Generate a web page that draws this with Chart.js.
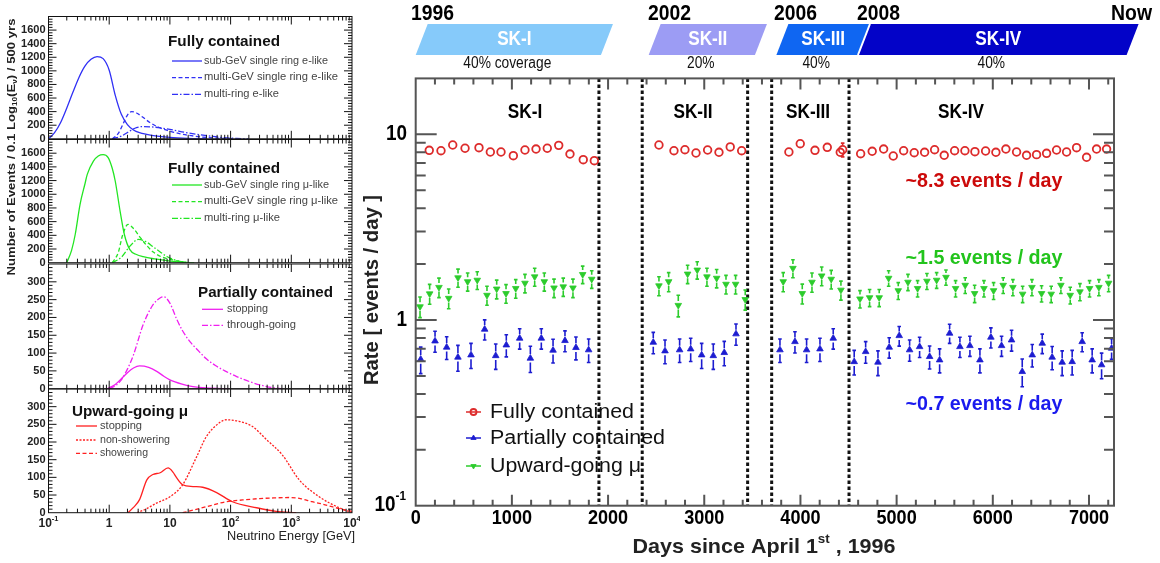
<!DOCTYPE html>
<html>
<head>
<meta charset="utf-8">
<script src="https://cdn.jsdelivr.net/npm/chart.js@4.4.1/dist/chart.umd.min.js"></script>
<style>
  body { margin: 0; background: #fff; width: 1160px; height: 563px; overflow: hidden; position: relative; }
  canvas { position: absolute; left: 0; top: 0; }
</style>
</head>
<body>
<canvas id="rate" width="1160" height="563"></canvas>
<canvas id="specFCe" width="360" height="563"></canvas>
<canvas id="specFCmu" width="360" height="563"></canvas>
<canvas id="specPC" width="360" height="563"></canvas>
<canvas id="specUp" width="360" height="563"></canvas>
<script>
// ---------- left: expected energy spectra, x = log10(E / GeV) ----------
const fcSubELogE = [-1, -0.9, -0.8, -0.7, -0.6, -0.5, -0.4, -0.3, -0.2, -0.1, 0, 0.1, 0.2, 0.3, 0.4, 0.5, 0.7, 1.0, 1.3, 1.6];
const fcSubE = [0, 90, 240, 450, 680, 900, 1070, 1170, 1210, 1180, 1010, 640, 360, 210, 130, 90, 50, 20, 6, 0];
const fcMultiGeVELogE = [0.05, 0.15, 0.25, 0.3, 0.37, 0.45, 0.55, 0.67, 0.8, 1.05, 1.25, 1.49, 1.75, 2.05];
const fcMultiGeVE = [0, 80, 260, 350, 400, 380, 320, 240, 175, 100, 60, 30, 10, 0];
const fcMultiRingELogE = [0.05, 0.2, 0.35, 0.45, 0.56, 0.7, 0.85, 1.05, 1.25, 1.5, 1.8, 2.1, 2.3];
const fcMultiRingE = [0, 40, 120, 165, 180, 175, 160, 130, 95, 60, 25, 5, 0];

const fcSubMuLogE = [-0.7, -0.62, -0.56, -0.48, -0.4, -0.36, -0.26, -0.18, -0.1, -0.02, 0.05, 0.1, 0.18, 0.25, 0.34, 0.45, 0.56, 0.75, 0.95, 1.2, 1.4];
const fcSubMu = [0, 180, 412, 853, 1150, 1294, 1485, 1560, 1580, 1540, 1380, 1190, 750, 412, 190, 120, 88, 55, 30, 8, 0];
const fcMultiGeVMuLogE = [0.05, 0.15, 0.22, 0.31, 0.4, 0.51, 0.62, 0.72, 0.85, 1.05, 1.2, 1.3];
const fcMultiGeVMu = [0, 150, 400, 560, 500, 370, 250, 160, 90, 40, 10, 0];
const fcMultiRingMuLogE = [0.05, 0.2, 0.35, 0.48, 0.6, 0.72, 0.85, 0.95, 1.05, 1.16, 1.3];
const fcMultiRingMu = [0, 80, 250, 340, 310, 235, 150, 90, 50, 20, 0];

const pcStopLogE = [-0.03, 0.1, 0.2, 0.3, 0.4, 0.5, 0.65, 0.79, 0.9, 1.0, 1.2, 1.38, 1.6, 1.98];
const pcStop = [0, 12, 28, 45, 58, 64, 60, 48, 35, 25, 13, 6, 2, 0];
const pcThruLogE = [0, 0.1, 0.2, 0.3, 0.4, 0.56, 0.72, 0.85, 0.9, 1.0, 1.11, 1.2, 1.33, 1.45, 1.6, 1.75, 1.93, 2.1, 2.31, 2.5, 2.69, 2.85];
const pcThru = [0, 8, 25, 55, 95, 180, 235, 256, 258, 240, 196, 165, 132, 110, 84, 65, 48, 34, 20, 10, 3, 0];

const upStopLogE = [0.31, 0.4, 0.5, 0.62, 0.72, 0.84, 0.97, 1.05, 1.11, 1.21, 1.38, 1.54, 1.77, 2.03, 2.43, 2.75, 3.08];
const upStop = [0, 15, 37, 93, 108, 113, 127, 115, 99, 79, 74, 72, 57, 31, 14, 4, 0];
const upNonShowLogE = [0.46, 0.6, 0.79, 1.0, 1.21, 1.44, 1.6, 1.82, 1.93, 2.15, 2.36, 2.59, 2.85, 3.13, 3.46, 3.79, 4.0];
const upNonShow = [0, 10, 28, 45, 79, 158, 215, 255, 263, 258, 244, 207, 164, 93, 45, 14, 0];
const upShowLogE = [1.21, 1.4, 1.6, 1.93, 2.2, 2.48, 2.75, 2.97, 3.15, 3.34, 3.5, 3.67, 3.85, 4.0];
const upShow = [0, 8, 17, 31, 36, 40, 42, 43, 40, 31, 25, 17, 9, 4];

const fcTicks = [0, 200, 400, 600, 800, 1000, 1200, 1400, 1600];
const pcTicks = [0, 50, 100, 150, 200, 250, 300];
const energyTickLogE = [-1, 0, 1, 2, 3, 4];
const energyTickBase = ['10', '1', '10', '10', '10', '10'];
const energyTickExp = ['-1', '', '', '2', '3', '4'];

// ---------- right: event rate vs days since April 1st 1996 ----------
const fcDay = [141, 263, 385, 513, 658, 776, 887, 1015, 1136, 1251, 1368, 1487, 1604, 1742, 1857,
  2529, 2685, 2799, 2914, 3035, 3153, 3270, 3389,
  3880, 3998, 4151, 4279, 4414, 4439,
  4626, 4746, 4865, 4965, 5073, 5183, 5291, 5395, 5495, 5603, 5710, 5814, 5925, 6032, 6136, 6247, 6351, 6455, 6559, 6663, 6767, 6871, 6975, 7079, 7183];
const fcRate = [8.20, 8.16, 8.76, 8.41, 8.47, 8.03, 8.03, 7.67, 8.23, 8.33, 8.41, 8.72, 7.83, 7.30, 7.21,
  8.76, 8.16, 8.26, 7.93, 8.23, 8.00, 8.55, 8.16,
  8.03, 8.90, 8.20, 8.51, 8.00, 8.26,
  7.86, 8.10, 8.33, 7.64, 8.16, 7.96, 8.00, 8.26, 7.71, 8.16, 8.16, 8.06, 8.13, 8.00, 8.33, 8.03, 7.71, 7.77, 7.90, 8.23, 8.03, 8.47, 7.52, 8.33, 8.33];
const fcErr = [0.15, 0.15, 0.15, 0.15, 0.15, 0.15, 0.15, 0.15, 0.15, 0.15, 0.15, 0.15, 0.15, 0.15, 0.15,
  0.2, 0.2, 0.2, 0.2, 0.2, 0.2, 0.2, 0.2,
  0.2, 0.2, 0.2, 0.2, 0.3, 0.7,
  0.15, 0.15, 0.15, 0.15, 0.15, 0.15, 0.15, 0.15, 0.15, 0.15, 0.15, 0.15, 0.15, 0.15, 0.15, 0.15, 0.15, 0.15, 0.15, 0.15, 0.15, 0.15, 0.15, 0.15, 0.15];

const pcDay = [52, 201, 322, 439, 575, 717, 832, 942, 1081, 1192, 1306, 1428, 1552, 1666, 1798,
  2470, 2592, 2744, 2859, 2973, 3094, 3208, 3330,
  3787, 3943, 4064, 4203, 4341,
  4559, 4678, 4806, 4923, 5027, 5135, 5239, 5343, 5447, 5551, 5658, 5762, 5866, 5980, 6091, 6195, 6306, 6410, 6514, 6617, 6721, 6825, 6929, 7033, 7131, 7235];
const pcRate = [0.614, 0.770, 0.713, 0.630, 0.648, 0.891, 0.642, 0.733, 0.797, 0.622, 0.797, 0.687, 0.774, 0.710, 0.690,
  0.758, 0.681, 0.690, 0.698, 0.648, 0.642, 0.667, 0.841,
  0.690, 0.764, 0.690, 0.698, 0.797,
  0.596, 0.675, 0.592, 0.713, 0.823, 0.690, 0.718, 0.635, 0.609, 0.848, 0.718, 0.727, 0.609, 0.807, 0.727, 0.780, 0.527, 0.648, 0.749, 0.630, 0.592, 0.596, 0.764, 0.609, 0.573, 0.704];
const pcErr = [0.1, 0.1, 0.1, 0.1, 0.1, 0.11, 0.1, 0.1, 0.1, 0.1, 0.1, 0.1, 0.1, 0.1, 0.1,
  0.1, 0.1, 0.1, 0.1, 0.1, 0.1, 0.1, 0.11,
  0.1, 0.1, 0.1, 0.1, 0.1,
  0.09, 0.09, 0.09, 0.09, 0.1, 0.09, 0.09, 0.09, 0.09, 0.1, 0.09, 0.09, 0.09, 0.1, 0.09, 0.1, 0.09, 0.09, 0.09, 0.09, 0.09, 0.09, 0.09, 0.09, 0.09, 0.09];

const upDay = [45, 145, 242, 343, 440, 540, 640, 741, 842, 939, 1040, 1136, 1237, 1337, 1438, 1534, 1635, 1736, 1830,
  2529, 2630, 2730, 2827, 2927, 3028, 3129, 3226, 3326, 3426,
  3821, 3922, 4019, 4120, 4221, 4320, 4421,
  4619, 4719, 4819, 4917, 5017, 5118, 5218, 5315, 5416, 5513, 5613, 5713, 5811, 5908, 6008, 6108, 6209, 6310, 6407, 6507, 6607, 6708, 6805, 6906, 7006, 7103, 7204];
const upRate = [1.18, 1.385, 1.50, 1.31, 1.69, 1.61, 1.64, 1.36, 1.47, 1.39, 1.48, 1.58, 1.71, 1.61, 1.49, 1.51, 1.49, 1.76, 1.66,
  1.53, 1.61, 1.20, 1.77, 1.86, 1.71, 1.68, 1.56, 1.56, 1.29,
  1.61, 1.90, 1.39, 1.60, 1.73, 1.66, 1.45,
  1.30, 1.32, 1.32, 1.68, 1.44, 1.60, 1.48, 1.62, 1.64, 1.70, 1.48, 1.54, 1.39, 1.48, 1.44, 1.54, 1.50, 1.38, 1.50, 1.39, 1.38, 1.54, 1.36, 1.42, 1.48, 1.50, 1.58];
const upErr = [0.15, 0.17, 0.18, 0.16, 0.19, 0.18, 0.18, 0.16, 0.17, 0.16, 0.17, 0.18, 0.19, 0.18, 0.17, 0.17, 0.17, 0.19, 0.18,
  0.18, 0.19, 0.16, 0.2, 0.2, 0.19, 0.19, 0.18, 0.18, 0.16,
  0.19, 0.21, 0.17, 0.19, 0.2, 0.19, 0.17,
  0.14, 0.14, 0.14, 0.16, 0.15, 0.16, 0.15, 0.16, 0.16, 0.16, 0.15, 0.15, 0.15, 0.15, 0.15, 0.15, 0.15, 0.14, 0.15, 0.14, 0.14, 0.15, 0.14, 0.15, 0.15, 0.15, 0.16];

const periodName = ['SK-I', 'SK-II', 'SK-III', 'SK-IV'];
const periodStart = [0, 2422, 3750, 4598];   // banner extents, days
const periodEnd = [1926, 3527, 4598, 7391];
const periodCoverage = ['40% coverage', '20%', '40%', '40%'];
const periodYear = ['1996', '2002', '2006', '2008'];
const boundaryDay = [1905, 2355, 3451, 3701, 4505];
const dayTicks = [0, 1000, 2000, 3000, 4000, 5000, 6000, 7000];

// ---------- helpers ----------
const SANS = "'Liberation Sans', Arial, sans-serif";

// text drawn piecewise (normal / sup / sub), optionally squeezed to a target width
function rich(ctx, parts, x, y, o) {
  if (typeof parts === 'string') parts = [[parts]];
  const size = o.size || 12, wt = o.bold ? 'bold ' : '';
  ctx.save();
  ctx.fillStyle = o.color || '#000';
  ctx.textBaseline = 'middle';
  ctx.textAlign = 'left';
  const pieces = parts.map(([t, k]) => {
    const sz = k ? size * 0.62 : size;
    ctx.font = wt + sz + 'px ' + SANS;
    return { t, sz, dy: k === 'sup' ? -size * 0.38 : k === 'sub' ? size * 0.28 : 0, w: ctx.measureText(t).width };
  });
  const raw = pieces.reduce((s, p) => s + p.w, 0);
  const sx = o.w ? o.w / raw : (o.sx || 1);
  const tw = raw * sx;
  ctx.translate(x, y);
  if (o.rot) ctx.rotate(o.rot);
  ctx.translate(o.align === 'center' ? -tw / 2 : o.align === 'right' ? -tw : 0, 0);
  ctx.scale(sx, 1);
  let cx = 0;
  pieces.forEach(p => {
    ctx.font = wt + p.sz + 'px ' + SANS;
    ctx.fillText(p.t, cx, p.dy);
    cx += p.w;
  });
  ctx.restore();
}

function seg(ctx, x1, y1, x2, y2) { ctx.moveTo(x1, y1); ctx.lineTo(x2, y2); }

const SOLID = [], DASH = [4, 2.5], DASHDOT = [6, 2, 1.5, 2], DOT = [2, 1.5];

// ---------- left panels ----------
const leftPanels = [
  { canvas: 'specFCe', top: 16.5, bottom: 138.8, ymax: 1800, ystep: 200, yminor: 40, ticks: fcTicks, color: '#3030f5',
    title: 'Fully contained', tx: 168, ty: 42.3, tw: 112, lineX: [172, 202], textX: 204, entryY: [61, 77.7, 94.3], entryW: [124, 134, 75],
    curves: [[fcSubELogE, fcSubE, 'sub-GeV single ring e-like', SOLID],
             [fcMultiGeVELogE, fcMultiGeVE, 'multi-GeV single ring e-like', DASH],
             [fcMultiRingELogE, fcMultiRingE, 'multi-ring e-like', DASHDOT]] },
  { canvas: 'specFCmu', top: 139.5, bottom: 262.7, ymax: 1800, ystep: 200, yminor: 40, ticks: fcTicks, color: '#22e622',
    title: 'Fully contained', tx: 168, ty: 169, tw: 112, lineX: [172, 202], textX: 204, entryY: [185, 201.7, 218.3], entryW: [125, 134, 76],
    curves: [[fcSubMuLogE, fcSubMu, 'sub-GeV single ring \u03bc-like', SOLID],
             [fcMultiGeVMuLogE, fcMultiGeVMu, 'multi-GeV single ring \u03bc-like', DASH],
             [fcMultiRingMuLogE, fcMultiRingMu, 'multi-ring \u03bc-like', DASHDOT]] },
  { canvas: 'specPC', top: 264, bottom: 388.7, ymax: 350, ystep: 50, yminor: 10, ticks: pcTicks, color: '#f020f0',
    title: 'Partially contained', tx: 198, ty: 292.7, tw: 135, lineX: [202, 223], textX: 227, entryY: [309.3, 325.3], entryW: [41, 69],
    curves: [[pcStopLogE, pcStop, 'stopping', SOLID],
             [pcThruLogE, pcThru, 'through-going', DASHDOT]] },
  { canvas: 'specUp', top: 389, bottom: 512.7, ymax: 350, ystep: 50, yminor: 10, ticks: pcTicks, color: '#ff2020', xlabels: true,
    title: 'Upward-going \u03bc', tx: 72, ty: 411.7, tw: 116, lineX: [76, 97], textX: 100, entryY: [426, 440, 453.3], entryW: [42, 70, 48],
    curves: [[upStopLogE, upStop, 'stopping', SOLID],
             [upNonShowLogE, upNonShow, 'non-showering', DOT],
             [upShowLogE, upShow, 'showering', DASH]] }
];

function spectrumFrame(p) {
  return {
    id: 'spectrumFrame',
    afterDraw(chart) {
      const { ctx, chartArea: a, scales: { x, y } } = chart;
      ctx.save();
      ctx.strokeStyle = '#111';
      ctx.lineWidth = 1;
      ctx.strokeRect(a.left, a.top, a.right - a.left, a.bottom - a.top);
      ctx.beginPath();
      for (let d = -1; d < 4; d++) {
        for (let k = 1; k <= 9; k++) {
          const px = x.getPixelForValue(d + Math.log10(k));
          const len = k === 1 ? 8 : 4;
          seg(ctx, px, a.bottom, px, a.bottom - len);
          seg(ctx, px, a.top, px, a.top + len);
        }
      }
      for (let v = p.yminor; v < p.ymax; v += p.yminor) {
        const py = y.getPixelForValue(v);
        const len = v % p.ystep === 0 ? 8 : 4;
        seg(ctx, a.left, py, a.left + len, py);
        seg(ctx, a.right, py, a.right - len, py);
      }
      ctx.stroke();
      p.ticks.forEach(v => rich(ctx, String(v), 45.5, y.getPixelForValue(v), { size: 11, bold: true, align: 'right', color: '#222' }));
      if (p.xlabels) {
        energyTickLogE.forEach((lx, i) => {
          const parts = energyTickExp[i] ? [[energyTickBase[i]], [energyTickExp[i], 'sup']] : [[energyTickBase[i]]];
          rich(ctx, parts, x.getPixelForValue(lx), 524, { size: 12, bold: true, align: 'center', color: '#222' });
        });
        rich(ctx, 'Neutrino Energy [GeV]', 355, 537, { size: 12, w: 128, align: 'right', color: '#222' });
      }
      // panel legend
      rich(ctx, p.title, p.tx, p.ty, { size: 15, bold: true, w: p.tw, color: '#111' });
      p.curves.forEach((c, i) => {
        ctx.beginPath();
        ctx.strokeStyle = p.color;
        ctx.lineWidth = 1.3;
        ctx.setLineDash(c[3]);
        seg(ctx, p.lineX[0], p.entryY[i], p.lineX[1], p.entryY[i]);
        ctx.stroke();
        ctx.setLineDash([]);
        rich(ctx, c[2], p.textX, p.entryY[i], { size: 10, w: p.entryW[i], color: '#444' });
      });
      ctx.restore();
    }
  };
}

leftPanels.forEach(p => {
  new Chart(document.getElementById(p.canvas), {
    type: 'line',
    data: {
      datasets: p.curves.map(c => ({
        label: c[2],
        data: c[0].map((lx, i) => ({ x: lx, y: c[1][i] })),
        borderColor: p.color,
        borderWidth: 1.3,
        borderDash: c[3],
        pointRadius: 0,
        cubicInterpolationMode: 'monotone',
        fill: false
      }))
    },
    options: {
      responsive: false, animation: false, devicePixelRatio: 1, events: [],
      layout: { padding: { left: 48.5, right: 8, top: p.top, bottom: 563 - p.bottom } },
      plugins: { legend: { display: false }, tooltip: { enabled: false } },
      scales: {
        x: { type: 'linear', min: -1, max: 4, display: false },
        y: { type: 'linear', min: 0, max: p.ymax, display: false }
      }
    },
    plugins: [spectrumFrame(p)]
  });
});

// left column axis title
{
  const ctx = document.getElementById('specFCe').getContext('2d');
  rich(ctx, [['Number of Events / 0.1 Log'], ['10', 'sub'], ['(E'], ['\u03bd', 'sub'], [') / 500 yrs']], 12, 147,
       { size: 11, bold: true, w: 257, align: 'center', rot: -Math.PI / 2, color: '#222' });
}

// ---------- right: rate plot ----------
const RED = '#dd2b2b', BLUE = '#1c1cd0', GREEN = '#2ccc2c';
const bannerColor = ['#86cafa', '#9c9cf4', '#0f66f2', '#0303c8'];

const rateDecor = {
  id: 'rateDecor',
  beforeDatasetsDraw(chart) {
    const { ctx, chartArea: a, scales: { x, y } } = chart;
    ctx.save();
    // period boundaries
    ctx.strokeStyle = '#111';
    ctx.lineWidth = 3;
    ctx.setLineDash([3.5, 2.5]);
    ctx.beginPath();
    boundaryDay.forEach(d => { const px = x.getPixelForValue(d); seg(ctx, px, a.top, px, a.bottom); });
    ctx.stroke();
    ctx.setLineDash([]);
    // error bars (not drawn inside the marker, ROOT style)
    chart.data.datasets.forEach(ds => {
      ctx.strokeStyle = ds.borderColor;
      ctx.lineWidth = 1.6;
      ctx.beginPath();
      ds.data.forEach((pt, i) => {
        const e = ds.errors[i];
        const px = x.getPixelForValue(pt.x), pc = y.getPixelForValue(pt.y);
        const hi = y.getPixelForValue(pt.y + e), lo = y.getPixelForValue(pt.y - e);
        const r = ds.pointRadius + 0.5;
        if (pc - hi > r) { seg(ctx, px, hi, px, pc - r); seg(ctx, px - 1.8, hi, px + 1.8, hi); }
        if (lo - pc > r) { seg(ctx, px, pc + r, px, lo); seg(ctx, px - 1.8, lo, px + 1.8, lo); }
      });
      ctx.stroke();
    });
    ctx.restore();
  },
  afterDraw(chart) {
    const { ctx, chartArea: a, scales: { x, y } } = chart;
    ctx.save();
    // frame and inward ticks
    ctx.strokeStyle = '#555';
    ctx.lineWidth = 2;
    ctx.strokeRect(a.left, a.top, a.right - a.left, a.bottom - a.top);
    ctx.beginPath();
    for (let d = 200; d < x.max; d += 200) {
      const px = x.getPixelForValue(d), len = d % 1000 === 0 ? 11 : 6;
      seg(ctx, px, a.bottom, px, a.bottom - len);
      seg(ctx, px, a.top, px, a.top + len);
    }
    [0.1, 1, 10].forEach(dec => {
      for (let k = 1; k <= 9; k++) {
        const v = dec * k;
        if (v <= y.min || v >= y.max) continue;
        const py = y.getPixelForValue(v), len = k === 1 ? 21 : 10;
        seg(ctx, a.left, py, a.left + len, py);
        seg(ctx, a.right, py, a.right - len, py);
      }
    });
    ctx.stroke();

    const narrow = 0.86;
    dayTicks.forEach(d => rich(ctx, String(d), x.getPixelForValue(d), 518, { size: 21, bold: true, sx: narrow, align: 'center' }));
    rich(ctx, '10', 407, y.getPixelForValue(10), { size: 22, bold: true, sx: narrow, align: 'right' });
    rich(ctx, '1', 407, y.getPixelForValue(1), { size: 22, bold: true, sx: narrow, align: 'right' });
    rich(ctx, [['10'], ['-1', 'sup']], 406, y.getPixelForValue(0.1) - 1, { size: 22, bold: true, sx: narrow, align: 'right' });
    rich(ctx, [['Days since April 1'], ['st', 'sup'], [' , 1996']], 764, 547, { size: 21, bold: true, w: 263, align: 'center', color: '#222' });
    rich(ctx, 'Rate [ events / day ]', 372, 290, { size: 21, bold: true, w: 190, align: 'center', rot: -Math.PI / 2, color: '#222' });

    // period labels inside the plot
    const regionX = [525, 693, 808, 961];
    periodName.forEach((n, i) => rich(ctx, n, regionX[i], 112, { size: 20, bold: true, sx: narrow, align: 'center' }));

    // average rates
    rich(ctx, '~8.3 events / day', 984, 181, { size: 20, bold: true, w: 157, align: 'center', color: '#cc0a0a' });
    rich(ctx, '~1.5 events / day', 984, 258, { size: 20, bold: true, w: 157, align: 'center', color: '#22c41c' });
    rich(ctx, '~0.7 events / day', 984, 404, { size: 20, bold: true, w: 157, align: 'center', color: '#1a1aee' });

    // legend
    const legY = [412, 438, 466], legW = [144, 175, 151];
    chart.data.datasets.forEach((ds, i) => {
      ctx.strokeStyle = ds.borderColor;
      ctx.lineWidth = 1.5;
      ctx.beginPath();
      seg(ctx, 466, legY[i], 481, legY[i]);
      ctx.stroke();
      ctx.fillStyle = ds.backgroundColor;
      ctx.lineWidth = ds.pointBorderWidth;
      Chart.helpers.drawPoint(ctx, { pointStyle: ds.pointStyle, rotation: ds.pointRotation || 0, radius: ds.pointRadius - 0.8, borderWidth: ds.pointBorderWidth }, 473.5, legY[i]);
      rich(ctx, ds.label, 490, legY[i], { size: 20, w: legW[i], color: '#111' });
    });

    // timeline banners above the plot
    const top = 24, bot = 55, slant = 12;
    periodName.forEach((n, i) => {
      const x0 = x.getPixelForValue(periodStart[i]), x1 = x.getPixelForValue(periodEnd[i]);
      ctx.fillStyle = bannerColor[i];
      ctx.beginPath();
      ctx.moveTo(x0, bot); ctx.lineTo(x0 + slant, top); ctx.lineTo(x1 + slant, top); ctx.lineTo(x1, bot);
      ctx.closePath();
      ctx.fill();
      const cx = (x0 + x1 + slant) / 2;
      rich(ctx, n, cx, 39.5, { size: 20, bold: true, sx: narrow, align: 'center', color: '#fff' });
      rich(ctx, periodCoverage[i], cx - 7, 64, { size: 16, sx: narrow, align: 'center', color: '#111' });
    });
    // white seam between SK-III and SK-IV
    const sx3 = x.getPixelForValue(periodStart[3]);
    ctx.strokeStyle = '#fff';
    ctx.lineWidth = 2;
    ctx.beginPath();
    seg(ctx, sx3, bot, sx3 + slant, top);
    ctx.stroke();

    const yearX = [411, 648, 774, 857];
    periodYear.forEach((t, i) => rich(ctx, t, yearX[i], 14, { size: 22, bold: true, w: 43 }));
    rich(ctx, 'Now', 1152, 14, { size: 22, bold: true, w: 41, align: 'right' });
    ctx.restore();
  }
};

new Chart(document.getElementById('rate'), {
  type: 'scatter',
  data: {
    datasets: [
      { label: 'Fully contained', data: fcDay.map((d, i) => ({ x: d, y: fcRate[i] })), errors: fcErr,
        pointStyle: 'circle', pointRadius: 3.8, pointBorderWidth: 1.8, borderColor: RED, backgroundColor: 'rgba(0,0,0,0)' },
      { label: 'Partially contained', data: pcDay.map((d, i) => ({ x: d, y: pcRate[i] })), errors: pcErr,
        pointStyle: 'triangle', pointRadius: 3.8, pointBorderWidth: 0.8, borderColor: BLUE, backgroundColor: BLUE },
      { label: 'Upward-going \u03bc', data: upDay.map((d, i) => ({ x: d, y: upRate[i] })), errors: upErr,
        pointStyle: 'triangle', pointRotation: 180, pointRadius: 3.8, pointBorderWidth: 0.8, borderColor: GREEN, backgroundColor: GREEN }
    ]
  },
  options: {
    responsive: false, animation: false, devicePixelRatio: 1, events: [],
    layout: { padding: { left: 415.7, top: 78.4, right: 46, bottom: 57.3 } },
    plugins: { legend: { display: false }, tooltip: { enabled: false } },
    scales: {
      x: { type: 'linear', min: 0, max: 7260, display: false },
      y: { type: 'logarithmic', min: 0.1, max: 20, display: false }
    }
  },
  plugins: [rateDecor]
});
</script>
</body>
</html>
